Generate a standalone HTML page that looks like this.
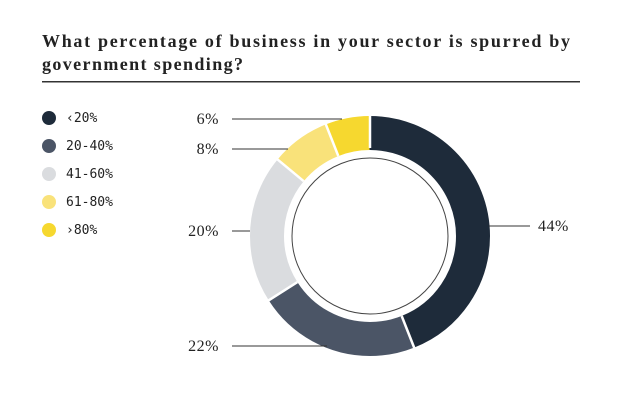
<!DOCTYPE html>
<html><head><meta charset="utf-8"><style>
body{margin:0;background:#fff;width:620px;height:405px;overflow:hidden}
</style></head><body>
<svg width="620" height="405" xmlns="http://www.w3.org/2000/svg">
<text font-family="Liberation Serif, serif" font-weight="bold" font-size="18" fill="#222">
<tspan x="42" y="47" textLength="528" lengthAdjust="spacing">What percentage of business in your sector is spurred by</tspan>
<tspan x="42" y="70" textLength="201" lengthAdjust="spacing">government spending?</tspan></text>
<rect x="42" y="81" width="538" height="1.5" fill="#333"/>
<g font-family="DejaVu Sans Mono, Liberation Mono, monospace" font-size="13" fill="#222">
<circle cx="49" cy="118" r="7" fill="#1e2b3a"/><text x="66" y="122">‹20%</text>
<circle cx="49" cy="146" r="7" fill="#4b5566"/><text x="66" y="150">20-40%</text>
<circle cx="49" cy="174" r="7" fill="#dadcdf"/><text x="66" y="178">41-60%</text>
<circle cx="49" cy="202" r="7" fill="#f9e27a"/><text x="66" y="206">61-80%</text>
<circle cx="49" cy="230" r="7" fill="#f6d82f"/><text x="66" y="234">›80%</text>
</g>
<g transform="rotate(-90 370 236)" fill="none" stroke-width="34">
<circle cx="370" cy="236" r="103" pathLength="100" stroke="#1e2b3a" stroke-dasharray="44 56" stroke-dashoffset="0"/>
<circle cx="370" cy="236" r="103" pathLength="100" stroke="#4b5566" stroke-dasharray="22 78" stroke-dashoffset="-44"/>
<circle cx="370" cy="236" r="103" pathLength="100" stroke="#dadcdf" stroke-dasharray="20 80" stroke-dashoffset="-66"/>
<circle cx="370" cy="236" r="103" pathLength="100" stroke="#f9e27a" stroke-dasharray="8 92" stroke-dashoffset="-86"/>
<circle cx="370" cy="236" r="103" pathLength="100" stroke="#f6d82f" stroke-dasharray="6 94" stroke-dashoffset="-94"/>
</g>
<g stroke="#fff" stroke-width="2.5">
<line x1="370" y1="148" x2="370" y2="114"/>
<line x1="401.7" y1="316" x2="414.9" y2="349.5"/>
<line x1="297.4" y1="282.1" x2="267" y2="301.4"/>
<line x1="303.7" y1="181.2" x2="276" y2="158.2"/>
<line x1="338.3" y1="156" x2="325.1" y2="122.5"/>
</g>
<circle cx="370" cy="236" r="78" fill="none" stroke="#444" stroke-width="1"/>
<g stroke="#333" stroke-width="1">
<line x1="489" y1="226" x2="530" y2="226"/>
<line x1="232" y1="346" x2="327" y2="346"/>
<line x1="232" y1="231" x2="250" y2="231"/>
<line x1="232" y1="149" x2="288" y2="149"/>
<line x1="232" y1="119" x2="342" y2="119"/>
</g>
<g font-family="Liberation Serif, serif" font-size="16" fill="#222" letter-spacing="0.5">
<text x="538" y="231">44%</text>
<text x="219" y="351" text-anchor="end">22%</text>
<text x="219" y="236" text-anchor="end">20%</text>
<text x="219" y="154" text-anchor="end">8%</text>
<text x="219" y="124" text-anchor="end">6%</text>
</g>
</svg>
</body></html>
